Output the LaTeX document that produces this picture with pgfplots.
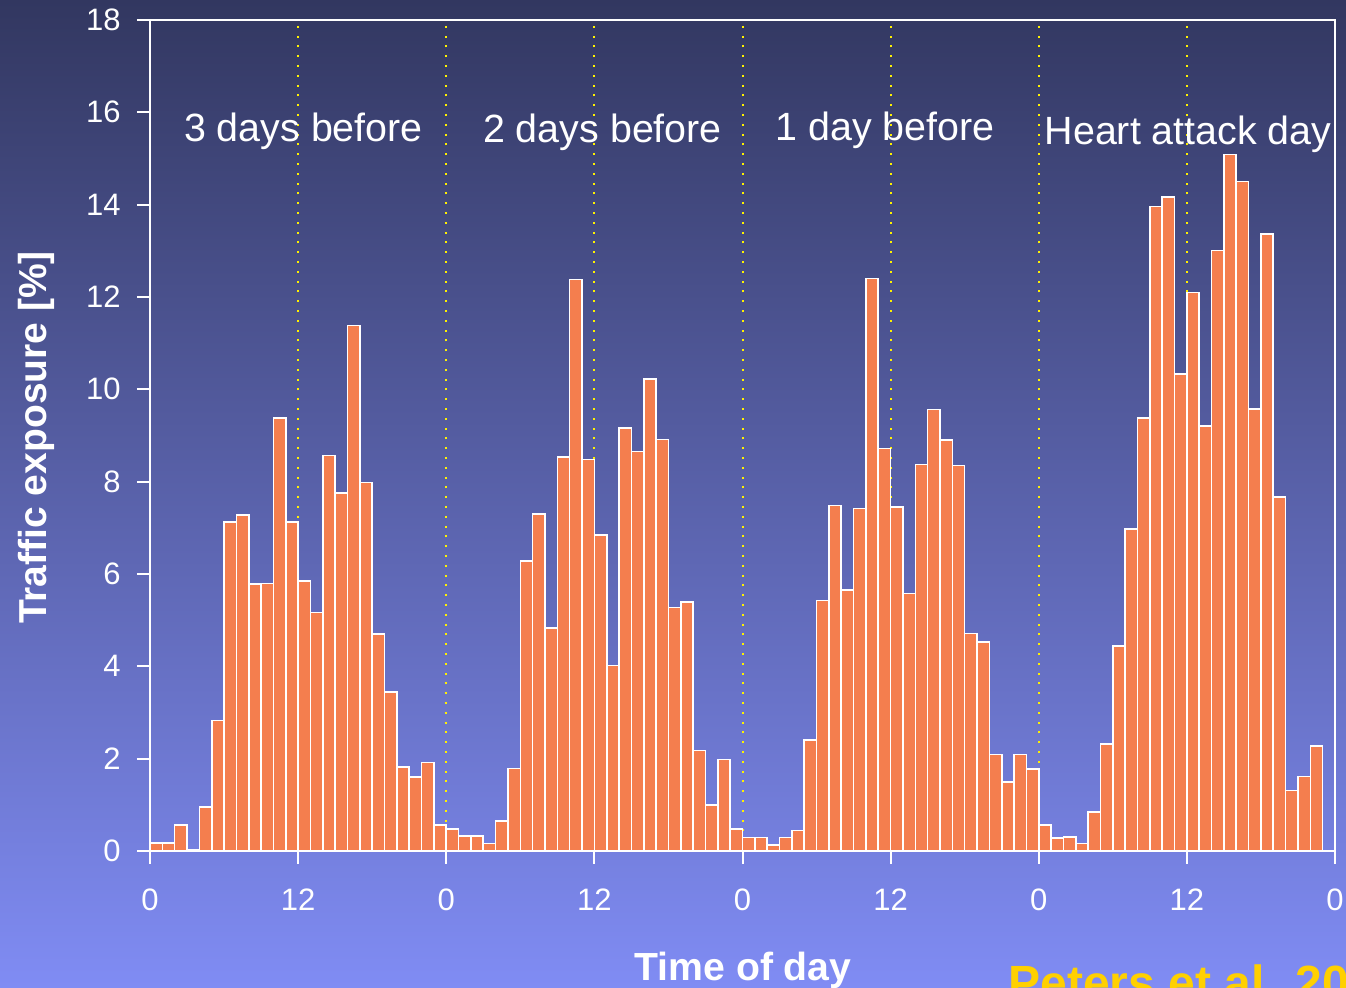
\documentclass[border=0pt]{standalone}
\usepackage{pgfplots}
\usepackage{pgfplotstable}
\pgfplotsset{compat=1.18}
\usepackage{fontspec}
\setmainfont{Liberation Sans}
\definecolor{bgtop}{RGB}{50,55,96}
\definecolor{bgbot}{RGB}{128,140,244}
\definecolor{barc}{RGB}{244,126,78}
\definecolor{gold}{RGB}{255,208,0}

\pgfplotstableread{
h y
0 0.17
1 0.17
2 0.56
3 0.03
4 0.95
5 2.83
6 7.13
7 7.28
8 5.78
9 5.79
10 9.38
11 7.12
12 5.85
13 5.17
14 8.57
15 7.75
16 11.38
17 7.98
18 4.70
19 3.45
20 1.82
21 1.60
22 1.92
23 0.56
24 0.47
25 0.33
26 0.33
27 0.16
28 0.65
29 1.79
30 6.28
31 7.30
32 4.83
33 8.54
34 12.38
35 8.48
36 6.84
37 4.02
38 9.16
39 8.65
40 10.22
41 8.91
42 5.27
43 5.39
44 2.18
45 1.00
46 1.98
47 0.47
48 0.29
49 0.29
50 0.13
51 0.29
52 0.44
53 2.40
54 5.43
55 7.48
56 5.65
57 7.42
58 12.40
59 8.72
60 7.45
61 5.58
62 8.37
63 9.56
64 8.90
65 8.35
66 4.71
67 4.53
68 2.09
69 1.50
70 2.09
71 1.78
72 0.56
73 0.28
74 0.30
75 0.16
76 0.85
77 2.32
78 4.44
79 6.97
80 9.38
81 13.96
82 14.17
83 10.33
84 12.10
85 9.21
86 13.01
87 15.09
88 14.50
89 9.58
90 13.36
91 7.67
92 1.31
93 1.61
94 2.27
95 0
}\exposure

\begin{document}
\begin{tikzpicture}
\useasboundingbox (0,0) rectangle (673pt,494pt);
\shade[top color=bgtop, bottom color=bgbot] (0,0) rectangle (673pt,494pt);
\begin{axis}[
  at={(75pt,68.5pt)}, anchor=south west,
  scale only axis, width=592.5pt, height=415.5pt,
  xmin=0, xmax=96, ymin=0, ymax=18,
  clip=false,
  axis line style={white, line width=1pt},
  tick style={white, line width=1pt},
  tick align=outside,
  xtick pos=bottom, ytick pos=left,
  major tick length=6.5pt,
  xtick={0,12,...,96},
  xticklabels={0,12,0,12,0,12,0,12,0},
  ytick={0,2,...,18},
  minor tick num=0,
  xmajorgrids,
  x grid style={yellow, line width=1pt, dash pattern=on 1pt off 3.9pt},
  /pgf/number format/assume math mode=true,
  ticklabel style={text=white, font=\fontsize{15.5}{18}\selectfont},
  xticklabel style={anchor=north, inner sep=0pt, yshift=-12pt},
  yticklabel style={anchor=east, inner sep=0pt, xshift=-8pt},
  xlabel={Time of day},
  xlabel style={at={(axis description cs:0.5004,-0.1564)}, anchor=base, text=white, font=\bfseries\fontsize{19.6}{22}\selectfont},
  ylabel={Traffic exposure [\%]},
  ylabel style={at={(axis description cs:-0.0962,0.4976)}, anchor=center, text=white, font=\bfseries\fontsize{19.5}{22}\selectfont},
]
\addplot[ybar, bar width=1, fill=barc, draw=white, line width=0.8pt]
  table[x expr=\thisrow{h}+0.5, y=y] {\exposure};
\node[text=white, font=\fontsize{19.7}{22}\selectfont] at (axis cs:12.43,15.59) {3 days before};
\node[text=white, font=\fontsize{19.7}{22}\selectfont] at (axis cs:36.66,15.57) {2 days before};
\node[text=white, font=\fontsize{19.7}{22}\selectfont] at (axis cs:59.55,15.62) {1 day before};
\node[text=white, font=\fontsize{19.7}{22}\selectfont] at (axis cs:84.1,15.52) {Heart attack day};
\end{axis}
\node[anchor=base west, inner sep=0pt, text=gold, font=\bfseries\fontsize{24}{28}\selectfont] at (504pt,-6pt) {Peters et al. 2004};
\end{tikzpicture}
\end{document}
